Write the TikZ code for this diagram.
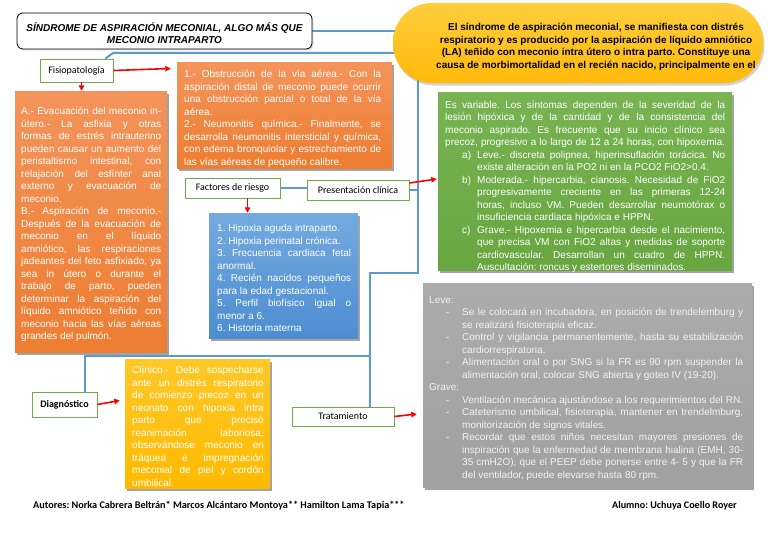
\documentclass[tikz,border=0pt]{standalone}
\usepackage{fontspec}
\setmainfont{Liberation Sans}
\newfontfamily\calfont{Carlito}
\usetikzlibrary{shadows,arrows.meta}
\pgfdeclarelayer{bg}\pgfdeclarelayer{lines}\pgfsetlayers{bg,lines,main}
\setlength{\parskip}{0pt}
\frenchspacing
\definecolor{orgT}{RGB}{244,148,90}
\definecolor{orgB}{RGB}{237,125,49}
\definecolor{bluT}{RGB}{116,170,224}
\definecolor{bluB}{RGB}{77,141,208}
\definecolor{grnT}{RGB}{120,180,82}
\definecolor{grnB}{RGB}{104,166,64}
\definecolor{gryT}{RGB}{172,172,172}
\definecolor{gryB}{RGB}{160,160,160}
\definecolor{yelT}{RGB}{255,200,40}
\definecolor{yelB}{RGB}{255,186,0}
\definecolor{ellT}{RGB}{255,206,60}
\definecolor{ellB}{RGB}{255,186,10}
\definecolor{lnblue}{RGB}{91,155,213}
\definecolor{lbgreen}{RGB}{112,173,71}
\definecolor{grytext}{RGB}{242,242,242}
\newcommand\St{\vrule height 9.5pt depth 0pt width 0pt}
\newcommand\Sp{\spaceskip=0pt\xspaceskip=0pt\frenchspacing}
\newcommand\JL[2][0pt]{\par\noindent\hbox to\hsize{\Sp\St\hskip#1\relax#2}\par}
\newcommand\RL[2][0pt]{\par\noindent\hbox to\hsize{\Sp\St\hskip#1\relax#2\hfil}\par}
\newcommand\CL[1]{\par\noindent\hbox to\hsize{\Sp\St\hfil#1\hfil}\par}
\newcommand\Lb[1]{\hbox to 15pt{#1\hfil}}
\newcommand\Ld{\hbox to 16pt{-\hfil}}
\begin{document}
\begin{tikzpicture}[x=1pt,y=-1pt,
  box/.style={rectangle, inner sep=0pt, drop shadow={shadow xshift=2pt,shadow yshift=-2.5pt,opacity=0.45,fill=black!80}},
  obox/.style={box, top color=orgT, bottom color=orgB},
  bbox/.style={box, top color=bluT, bottom color=bluB},
  gbox/.style={box, top color=grnT, bottom color=grnB},
  ybox/.style={box, top color=yelT, bottom color=yelB},
  gybox/.style={box, top color=gryT, bottom color=gryB},
  lbl/.style={rectangle, draw=lbgreen, line width=0.8pt, fill=white, inner sep=0pt, font=\calfont\fontsize{10}{12}\selectfont, text=black},
  txt/.style={inner sep=0pt, anchor=north west, font=\fontsize{10}{12.5}\selectfont, text=white},
  bl/.style={draw=lnblue, line width=2pt},
  ra/.style={draw=red, line width=1.6pt, -{Triangle[length=5.5pt,width=5.5pt]}},
]
\begin{pgfonlayer}{bg}
\fill[white] (0,0) rectangle (768,543);
\end{pgfonlayer}
\useasboundingbox (0,0) rectangle (768,543);

% title
\node[rectangle, draw=black, line width=0.8pt, rounded corners=6pt, fill=white, minimum width=295pt, minimum height=36pt, drop shadow={shadow xshift=1.5pt,shadow yshift=-1.5pt,opacity=0.25}] (title) at (164.5,31) {};
\node[txt, anchor=north, text width=290pt, text=black, font=\bfseries\itshape\fontsize{10}{12}\selectfont] (titlet) at (164.5,19.1)
{\CL{SÍNDROME DE ASPIRACIÓN MECONIAL, ALGO MÁS QUE}\CL{MECONIO INTRAPARTO}};

% ellipse
\node[rectangle, rounded corners=39pt, top color=ellT, bottom color=ellB, minimum width=370pt, minimum height=80pt, drop shadow={shadow xshift=1.5pt,shadow yshift=-2.5pt,opacity=0.35}] (ell) at (578,43) {};
\node[txt, anchor=north, text width=330pt, text=black, font=\bfseries\fontsize{10}{12.6}\selectfont] (ellt) at (596,18)
{\CL{El síndrome de aspiración meconial, se manifiesta con distrés}
\CL{respiratorio y es producido por la aspiración de líquido amniótico}
\CL{(LA) teñido con meconio intra útero o intra parto. Constituye una}
\CL{causa de morbimortalidad en el recién nacido, principalmente en el}};

% labels
\node[lbl, minimum width=73pt, minimum height=23pt] (fisio) at (76.5,70.5) {Fisiopatología};
\node[lbl, minimum width=95pt, minimum height=20pt] (fact) at (232.5,188) {Factores de riesgo};
\node[lbl, minimum width=102pt, minimum height=20pt] (pres) at (358,190) {Presentación clínica};
\node[lbl, minimum width=65pt, minimum height=25pt, font=\calfont\bfseries\fontsize{10}{12}\selectfont] (diag) at (64.5,404.5) {Diagnóstico};
\node[lbl, minimum width=102pt, minimum height=19pt] (trat) at (343,416.5) {Tratamiento};

% orange top
\node[obox, minimum width=215pt, minimum height=105pt] (fis1) at (284.5,115.5) {};
\node[txt, text width=197pt] (fis1t) at (184,65) {%
\JL{1.- Obstrucción de la vía aérea.- Con la}
\JL{aspiración distal de meconio puede ocurrir}
\JL{una obstrucción parcial o total de la vía}
\RL{aérea.}
\JL{2.- Neumonitis química.- Finalmente, se}
\JL{desarrolla neumonitis intersticial y química,}
\JL{con edema bronquiolar y estrechamiento de}
\RL{las vías aéreas de pequeño calibre.}};

% orange left
\node[obox, minimum width=152pt, minimum height=261pt] (fis2) at (91,221.5) {};
\node[txt, text width=140pt] (fis2t) at (21,102) {%
\JL{A.- Evacuación del meconio in-}
\JL{útero.- La asfixia y otras}
\JL{formas de estrés intrauterino}
\JL{pueden causar un aumento del}
\JL{peristaltismo intestinal, con}
\JL{relajación del esfínter anal}
\JL{externo y evacuación de}
\RL{meconio.}
\JL{B.- Aspiración de meconio.-}
\JL{Después de la evacuación de}
\JL{meconio en el líquido}
\JL{amniótico, las respiraciones}
\JL{jadeantes del feto asfixiado, ya}
\JL{sea in útero o durante el}
\JL{trabajo de parto, pueden}
\JL{determinar la aspiración del}
\JL{líquido amniótico teñido con}
\JL{meconio hacia las vías aéreas}
\RL{grandes del pulmón.}};

% blue
\node[bbox, minimum width=149pt, minimum height=125pt] (blue) at (283.5,275.5) {};
\node[txt, text width=134pt] (bluet) at (217,219) {%
\RL{1. Hipoxia aguda intraparto.}
\RL{2. Hipoxia perinatal crónica.}
\JL{3. Frecuencia cardiaca fetal}
\RL{anormal.}
\JL{4. Recién nacidos pequeños}
\RL{para la edad gestacional.}
\JL{5. Perfil biofísico igual o}
\RL{menor a 6.}
\RL{6. Historia materna}};

% green
\node[gbox, minimum width=294pt, minimum height=178pt] (green) at (585,181) {};
\node[txt, text width=280pt] (greent) at (445,95.5) {%
\JL{Es variable. Los síntomas dependen de la severidad de la}
\JL{lesión hipóxica y de la cantidad y de la consistencia del}
\JL{meconio aspirado. Es frecuente que su inicio clínico sea}
\JL{precoz, progresivo a lo largo de 12 a 24 horas, con hipoxemia.}
\JL[17pt]{\Lb{a)}Leve.- discreta polipnea, hiperinsuflación torácica. No}
\RL[32pt]{existe alteración en la PO2 ni en la PCO2 FiO2>0.4.}
\JL[17pt]{\Lb{b)}Moderada.- hipercarbia, cianosis. Necesidad de FiO2}
\JL[32pt]{progresivamente creciente en las primeras 12-24}
\JL[32pt]{horas, incluso VM. Pueden desarrollar neumotórax o}
\RL[32pt]{insuficiencia cardiaca hipóxica e HPPN.}
\JL[17pt]{\Lb{c)}Grave.- Hipoxemia e hipercarbia desde el nacimiento,}
\JL[32pt]{que precisa VM con FiO2 altas y medidas de soporte}
\JL[32pt]{cardiovascular. Desarrollan un cuadro de HPPN.}
\RL[32pt]{Auscultación: roncus y estertores diseminados.}};

% gray
\node[gybox, minimum width=329pt, minimum height=204pt] (gray) at (587.5,385) {};
\node[txt, text width=314pt, text=grytext] (grayt) at (429,290.5) {%
\RL{Leve:}
\JL[17pt]{\Ld Se le colocará en incubadora, en posición de trendelemburg y}
\RL[33pt]{se realizará fisioterapia eficaz.}
\JL[17pt]{\Ld Control y vigilancia permanentemente, hasta su estabilización}
\RL[33pt]{cardiorrespiratoria.}
\JL[17pt]{\Ld Alimentación oral o por SNG si la FR es 90 rpm suspender la}
\RL[33pt]{alimentación oral, colocar SNG abierta y goteo IV (19-20).}
\RL{Grave:}
\JL[17pt]{\Ld Ventilación mecánica ajustándose a los requerimientos del RN.}
\JL[17pt]{\Ld Cateterismo umbilical, fisioterapia, mantener en trendelmburg,}
\RL[33pt]{monitorización de signos vitales.}
\JL[17pt]{\Ld Recordar que estos niños necesitan mayores presiones de}
\JL[33pt]{inspiración que la enfermedad de membrana hialina (EMH, 30-}
\JL[33pt]{35 cmH2O), que el PEEP debe ponerse entre 4- 5 y que la FR}
\RL[33pt]{del ventilador, puede elevarse hasta 80 rpm.}};

% yellow
\node[ybox, minimum width=145pt, minimum height=129pt] (yel) at (197.5,423.5) {};
\node[txt, text width=131.5pt] (yelt) at (132,361.1) {%
\JL{Clínico.- Debe sospecharse}
\JL{ante un distrés respiratorio}
\JL{de comienzo precoz en un}
\JL{neonato con hipoxia intra}
\JL{parto que precisó}
\JL{reanimación laboriosa,}
\JL{observándose meconio en}
\JL{tráquea e impregnación}
\JL{meconial de piel y cordón}
\RL{umbilical.}};

% footer
\node[inner sep=0pt, anchor=base west, font=\calfont\bfseries\fontsize{10.2}{12}\selectfont] (aut) at (33,508) {Autores: Norka Cabrera Beltrán* Marcos Alcántaro Montoya** Hamilton Lama Tapia***};
\node[inner sep=0pt, anchor=base west, font=\calfont\bfseries\fontsize{10.1}{12}\selectfont] (alu) at (612,508) {Alumno: Uchuya Coello Royer};

% junctions
\coordinate (t1) at (402,31);
\coordinate (k1) at (113,53);
\coordinate (k2) at (402,53);
\coordinate (j0) at (418,70);
\coordinate (j1) at (418,273);
\coordinate (j2) at (370,273);
\coordinate (j3) at (370,356);

\begin{pgfonlayer}{lines}
\draw[bl] (title.east) -- (t1);
\draw[bl] ([xshift=-8pt]fisio.north east) -- (k1) -- (k2);
\draw[bl] (j0) -- (j1) -- (j2) -- (j2 |- trat.north);
\draw[bl] (pres.east) -- (pres.east -| j1);
\draw[bl] (fact.east) -- (fact.east -| pres.west);
\draw[bl] ([xshift=20pt]diag.north) |- (j3);
\end{pgfonlayer}

% red arrows
\draw[ra] (fisio.east) -- ([xshift=-6pt,yshift=2pt]fisio.east -| fis1.west);
\draw[ra] ([xshift=5pt]fisio.south) -- ([xshift=5pt]fisio.south |- fis2.north);
\draw[ra] ([xshift=15pt]fact.south) -- ([xshift=15pt]fact.south |- blue.north);
\draw[ra] ([yshift=7pt]pres.east) -- ([xshift=-1pt,yshift=11pt]pres.east -| green.west);
\draw[ra] (diag.east) -- ([xshift=-5pt,yshift=4pt]diag.east -| yel.west);
\draw[ra] (trat.east) -- ([xshift=-6pt,yshift=2.5pt]trat.east -| gray.west);
\end{tikzpicture}
\end{document}
